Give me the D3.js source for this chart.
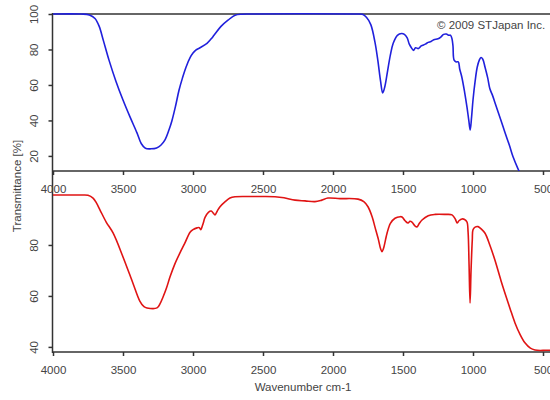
<!DOCTYPE html>
<html lang="en">
<head>
<meta charset="UTF-8">
<title>IR Spectra</title>
<script src="https://d3js.org/d3.v7.min.js"></script>
<style>
  body { margin: 0; background: #fff; }
  svg text { font-family: "Liberation Sans", Arial, sans-serif; font-size: 11.5px; fill: #444; }
  .axis path, .axis line { stroke: #333; stroke-width: 1.5px; }
</style>
</head>
<body>
<svg width="550" height="400"></svg>
<script>
// top spectrum (blue)
const blueWn = [4000,3800,3740,3700,3670,3640,3600,3550,3500,3450,3400,3370,3340,3300,3260,3230,3200,3170,3150,3125,3100,3075,3050,3020,3000,2980,2950,2900,2870,2850,2800,2750,2700,2650,2600,1850,1790,1760,1730,1700,1680,1660,1645,1630,1610,1590,1570,1540,1510,1490,1470,1455,1440,1425,1410,1390,1370,1340,1320,1300,1280,1250,1230,1210,1190,1175,1160,1150,1143,1135,1120,1105,1095,1080,1060,1043,1030,1020,1010,1000,985,970,955,943,930,914,895,880,860,843,800,771,740,714,680,650];
const blueT = [100,100,99.5,97.5,93,85,74,62,51.5,42,33,27,24.3,24,24.5,26,29,35,40,48,57,64,70,75.5,78,79.7,81,83.5,86,88,93,96.5,99.3,99.9,100,100,99.8,98,94,84,74,62,55.5,59,68,77,83.5,88,89,88.5,86.5,83,81,79.5,81,80.5,82,83,84,84.5,85.5,86,87,88.5,88.7,88,88,86,82,74,73,73,69,64.5,56,47.5,40,34.6,42,51.5,62,70,74,75.5,74.5,70,64,58,54,50,40,33,26,19.5,13,8];

// bottom spectrum (red)
const redWn = [4000,3800,3750,3714,3690,3664,3620,3571,3500,3429,3380,3350,3329,3257,3235,3214,3190,3164,3130,3093,3060,3021,3000,2971,2955,2945,2930,2914,2890,2870,2855,2843,2825,2807,2770,2736,2700,2600,2500,2414,2350,2271,2200,2129,2080,2036,1950,1821,1780,1750,1720,1700,1675,1660,1650,1640,1625,1614,1590,1557,1520,1507,1485,1464,1450,1436,1415,1400,1385,1364,1320,1271,1200,1150,1125,1114,1100,1079,1060,1043,1035,1028,1021,1014,1005,1000,985,964,940,914,880,843,800,771,735,700,665,629,590,557,520,486,450];
const redT = [99.6,99.6,99.5,98.4,96.5,93.7,89,84.7,75.3,65,58,55.8,55.3,55.3,57,59.6,63,67.5,72.5,76.9,80.5,85,86,86.7,86.8,86.0,88.0,90.8,92.8,93.3,92.5,91.8,93.5,95,97,98.4,98.9,99,99,98.9,98.5,97.6,97.3,97,97.6,98.4,98.2,98,97,95,91,87,82,78.5,77.4,78.5,82,84.6,88.5,90.5,91.1,91,89.5,88.6,89.3,89,87.5,87.1,88.3,89.8,91.5,92,92,91.8,90,88.6,89.5,90.2,90,89,85,72,57.2,70,82,86,87,87.2,86.2,84.6,80,74,66,61,55,49.4,45,41.6,39.5,38.8,38.6,38.7,38.7];

const xTicks = [4000,3500,3000,2500,2000,1500,1000,500];
const topYTicks = [20,40,60,80,100];
const botYTicks = [40,60,80];

const svg = d3.select("svg");

const x = d3.scaleLinear().domain([4000, 400]).range([53, 557]);
const yTop = d3.scaleLinear().domain([11.5, 100]).range([171, 14]);
const yBot = d3.scaleLinear().domain([38, 100]).range([352, 194]);

// clip for the top panel
svg.append("clipPath").attr("id", "clipTop")
  .append("rect").attr("x", 53).attr("y", 10).attr("width", 520).attr("height", 161);

// top border
svg.append("line")
  .attr("x1", 52).attr("x2", 560).attr("y1", 14).attr("y2", 14)
  .attr("stroke", "#333").attr("stroke-width", 1.5);

// left axis line across both panels
svg.append("line")
  .attr("x1", 52.5).attr("x2", 52.5).attr("y1", 13).attr("y2", 353)
  .attr("stroke", "#333").attr("stroke-width", 1.5);

function xAxis(yPos) {
  const g = svg.append("g").attr("class", "axis")
    .attr("transform", `translate(0,${yPos})`)
    .call(d3.axisBottom(x).tickValues(xTicks).tickFormat(d3.format("d"))
      .tickSize(4).tickPadding(10).tickSizeOuter(0));
  g.select(".domain").attr("d", `M52,0H560`);
}

function yAxis(scale, ticks) {
  const g = svg.append("g").attr("class", "axis")
    .attr("transform", "translate(52.5,0)")
    .call(d3.axisLeft(scale).tickValues(ticks).tickSize(4).tickPadding(0));
  g.select(".domain").remove();
  g.selectAll(".tick text")
    .attr("x", 0).attr("dy", 0).attr("text-anchor", "middle")
    .attr("transform", "translate(-15,0) rotate(-90)");
}

xAxis(171);
xAxis(352);
yAxis(yTop, topYTicks);
yAxis(yBot, botYTicks);

const blueLine = d3.line()
  .x((d, i) => x(blueWn[i]))
  .y(d => yTop(d))
  .curve(d3.curveCatmullRom.alpha(0.5));

svg.append("path")
  .datum(blueT)
  .attr("clip-path", "url(#clipTop)")
  .attr("fill", "none")
  .attr("stroke", "#2020dc")
  .attr("stroke-width", 1.6)
  .attr("d", blueLine);

const redLine = d3.line()
  .x((d, i) => x(redWn[i]))
  .y(d => yBot(d))
  .curve(d3.curveCatmullRom.alpha(0.5));

svg.append("path")
  .datum(redT)
  .attr("fill", "none")
  .attr("stroke", "#e01414")
  .attr("stroke-width", 1.6)
  .attr("d", redLine);

// labels
svg.append("text")
  .attr("transform", "translate(21,186) rotate(-90)")
  .attr("text-anchor", "middle")
  .text("Transmittance [%]");

svg.append("text")
  .attr("x", 303).attr("y", 391)
  .attr("text-anchor", "middle")
  .text("Wavenumber cm-1");

svg.append("text")
  .attr("x", 437).attr("y", 29)
  .text("\u00a9 2009 STJapan Inc.");
</script>
</body>
</html>
